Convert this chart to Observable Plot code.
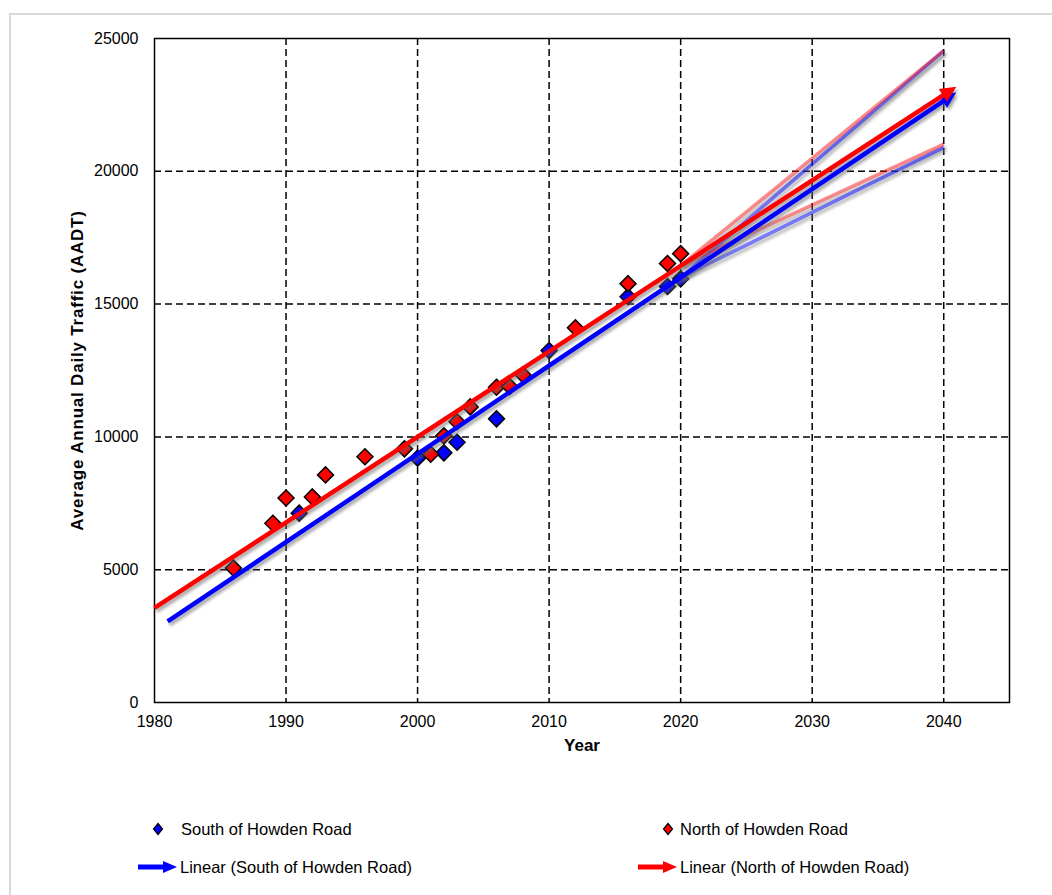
<!DOCTYPE html>
<html><head><meta charset="utf-8">
<script src="https://cdn.jsdelivr.net/npm/d3@7"></script>
<script src="https://cdn.jsdelivr.net/npm/@observablehq/plot@0.6"></script>
<style>
body{margin:0;width:1052px;height:895px;overflow:hidden;background:#fff;font-family:Arial,"Liberation Sans",sans-serif;position:relative}
#border{position:absolute;left:9px;top:13px;width:1100px;height:1000px;border:2px solid #d9d9d9;box-sizing:border-box}
#chart{position:absolute;left:0;top:0}
.lg-sym{position:absolute}
.lg-txt{position:absolute;font-size:16.5px;line-height:20px;color:#000;white-space:nowrap}
</style></head>
<body>
<div id="border"></div>
<div id="chart"></div>
<div id="legend"></div>
<script>
// ---- data ----
const southYears = [1991, 2000, 2002, 2003, 2006, 2010, 2016, 2019, 2020];
const southAADT  = [7130, 9200, 9400, 9800, 10680, 13250, 15280, 15660, 15950];
const northYears = [1986, 1989, 1990, 1992, 1993, 1996, 1999, 2001, 2002, 2003, 2004, 2006, 2007, 2008, 2012, 2016, 2019, 2020];
const northAADT  = [5060, 6750, 7700, 7740, 8570, 9250, 9550, 9350, 10040, 10570, 11130, 11870, 11900, 12340, 14110, 15770, 16530, 16900];

// linear trend lines
const trendSeries    = ["South", "North"];
const trendStartYear = [1981, 1980];
const trendStartAADT = [3050, 3560];
const trendEndYear   = [2040, 2040];
const trendEndAADT   = [22650, 22880];

// forecast range lines 2020-2040
const fanSeries    = ["South", "South", "North", "North"];
const fanStartYear = [2020, 2020, 2020, 2020];
const fanStartAADT = [16000, 16000, 16450, 16450];
const fanEndYear   = [2040, 2040, 2040, 2040];
const fanEndAADT   = [24540, 20900, 24540, 21020];

const xTicks = [1980, 1990, 2000, 2010, 2020, 2030, 2040];
const yTicks = [0, 5000, 10000, 15000, 20000, 25000];
const xGrid = [1990, 2000, 2010, 2020, 2030, 2040];
const yGrid = [5000, 10000, 15000, 20000];

const xLabel = "Year";
const yLabel = "Average Annual Daily Traffic (AADT)";
const legendLabels = ["South of Howden Road", "North of Howden Road", "Linear (South of Howden Road)", "Linear (North of Howden Road)"];

const colors = {South: "#0000ff", North: "#ff0000"};

// ---- tables ----
const south = southYears.map((y, i) => ({year: y, aadt: southAADT[i]}));
const north = northYears.map((y, i) => ({year: y, aadt: northAADT[i]}));
const trends = trendSeries.map((s, i) => ({s, x1: trendStartYear[i], y1: trendStartAADT[i], x2: trendEndYear[i], y2: trendEndAADT[i]}));
const fans = fanSeries.map((s, i) => ({s, x1: fanStartYear[i], y1: fanStartAADT[i], x2: fanEndYear[i], y2: fanEndAADT[i]}));

const linkOpts = {x1: "x1", y1: "y1", x2: "x2", y2: "y2"};

const chart = Plot.plot({
  width: 1052,
  height: 770,
  marginLeft: 154,
  marginRight: 43,
  marginTop: 38,
  marginBottom: 68,
  style: {fontFamily: "Arial, 'Liberation Sans', sans-serif", fontSize: "16px", background: "transparent", overflow: "visible"},
  x: {domain: [1980, 2045]},
  y: {domain: [0, 25000]},
  marks: [
    Plot.ruleX(xGrid, {stroke: "black", strokeWidth: 1.5, strokeDasharray: "7,4"}),
    Plot.ruleY(yGrid, {stroke: "black", strokeWidth: 1.5, strokeDasharray: "7,4"}),
    Plot.frame({stroke: "black", strokeWidth: 1.5}),
    Plot.axisX({ticks: xTicks, tickSize: 0, tickPadding: 13, fontSize: 16, tickFormat: d => String(d), label: null}),
    Plot.axisY({ticks: yTicks, tickSize: 0, tickPadding: 16, fontSize: 16, tickFormat: d => String(d), label: null}),
    Plot.text([xLabel], {frameAnchor: "bottom", dy: 48, text: d => d, fontWeight: "bold", fontSize: 17, textAnchor: "middle"}),
    Plot.text([yLabel], {frameAnchor: "left", dx: -77, rotate: -90, text: d => d, fontWeight: "bold", fontSize: 17, textAnchor: "middle", ariaDescription: "ylabel"}),
    // data markers
    Plot.dot(south, {x: "year", y: "aadt", symbol: "diamond2", r: 7.2, fill: colors.South, stroke: "black", strokeWidth: 1.5}),
    Plot.dot(north, {x: "year", y: "aadt", symbol: "diamond2", r: 7.2, fill: colors.North, stroke: "black", strokeWidth: 1.5}),
    // fan lines
    Plot.link(fans, {...linkOpts, stroke: "#777", strokeOpacity: 0.5, strokeWidth: 3.5, dx: 2, dy: 3, ariaDescription: "shadow"}),
    Plot.link(fans.filter(d => d.s === "South"), {...linkOpts, stroke: colors.South, strokeOpacity: 0.5, strokeWidth: 3.5}),
    Plot.link(fans.filter(d => d.s === "North"), {...linkOpts, stroke: colors.North, strokeOpacity: 0.45, strokeWidth: 3.5}),
    // trend lines
    Plot.link(trends, {...linkOpts, stroke: "#666", strokeOpacity: 0.55, strokeWidth: 4.5, dx: 2, dy: 3, ariaDescription: "trend-shadow"}),
    Plot.link(trends.filter(d => d.s === "South"), {...linkOpts, stroke: colors.South, strokeWidth: 4.5, ariaDescription: "trend-South"}),
    Plot.link(trends.filter(d => d.s === "North"), {...linkOpts, stroke: colors.North, strokeWidth: 4.5, ariaDescription: "trend-North"})
  ]
});
document.getElementById("chart").appendChild(chart);

// arrowhead markers & shadows
const NS = "http://www.w3.org/2000/svg";
const defs = document.createElementNS(NS, "defs");
[["South", colors.South, 1], ["North", colors.North, 1], ["shadow", "#666", 0.55]].forEach(([id, c, op]) => {
  const m = document.createElementNS(NS, "marker");
  m.setAttribute("id", "head-" + id);
  m.setAttribute("markerUnits", "userSpaceOnUse");
  m.setAttribute("markerWidth", 22); m.setAttribute("markerHeight", 20);
  m.setAttribute("viewBox", "-2 -10 22 20");
  m.setAttribute("refX", 1); m.setAttribute("refY", 0);
  m.setAttribute("orient", "auto");
  const p = document.createElementNS(NS, "path");
  p.setAttribute("d", "M0,-7.5L16,0L0,7.5Z");
  p.setAttribute("fill", c); p.setAttribute("fill-opacity", op);
  m.appendChild(p);
  defs.appendChild(m);
});
chart.insertBefore(defs, chart.firstChild);
chart.querySelectorAll('g[aria-description="trend-South"] path').forEach(p => p.setAttribute("marker-end", "url(#head-South)"));
chart.querySelectorAll('g[aria-description="trend-North"] path').forEach(p => p.setAttribute("marker-end", "url(#head-North)"));
chart.querySelectorAll('g[aria-description="trend-shadow"] path').forEach(p => p.setAttribute("marker-end", "url(#head-shadow)"));
chart.querySelectorAll('g[aria-description="shadow"], g[aria-description="trend-shadow"]').forEach(g => g.style.filter = "blur(1.5px)");
chart.querySelectorAll('g[aria-description="ylabel"]').forEach(g => g.style.letterSpacing = "0.8px");

// ---- legend ----
const legend = document.getElementById("legend");
const legendItems = [
  {label: legendLabels[0], kind: "diamond", color: colors.South, sx: 152, tx: 181, cy: 829},
  {label: legendLabels[1], kind: "diamond", color: colors.North, sx: 662, tx: 680, cy: 829},
  {label: legendLabels[2], kind: "arrow", color: colors.South, sx: 137, tx: 180, cy: 867},
  {label: legendLabels[3], kind: "arrow", color: colors.North, sx: 637, tx: 680, cy: 867}
];
legendItems.forEach(it => {
  const svg = document.createElementNS(NS, "svg");
  svg.setAttribute("class", "lg-sym");
  if (it.kind === "diamond") {
    svg.setAttribute("width", 12); svg.setAttribute("height", 14);
    svg.style.left = it.sx + "px"; svg.style.top = (it.cy - 7) + "px";
    const p = document.createElementNS(NS, "path");
    p.setAttribute("d", "M6,1.5L10.5,7L6,12.5L1.5,7Z");
    p.setAttribute("fill", it.color); p.setAttribute("stroke", "black"); p.setAttribute("stroke-width", "1.2");
    svg.appendChild(p);
  } else {
    svg.setAttribute("width", 42); svg.setAttribute("height", 16);
    svg.style.left = it.sx + "px"; svg.style.top = (it.cy - 8) + "px";
    const l = document.createElementNS(NS, "path");
    l.setAttribute("d", "M1,8L28,8"); l.setAttribute("stroke", it.color); l.setAttribute("stroke-width", "5");
    const h = document.createElementNS(NS, "path");
    h.setAttribute("d", "M26,2L40,8L26,14Z"); h.setAttribute("fill", it.color);
    svg.appendChild(l); svg.appendChild(h);
  }
  legend.appendChild(svg);
  const t = document.createElement("div");
  t.className = "lg-txt";
  t.textContent = it.label;
  t.style.left = it.tx + "px"; t.style.top = (it.cy - 10) + "px";
  legend.appendChild(t);
});
</script>
</body></html>
